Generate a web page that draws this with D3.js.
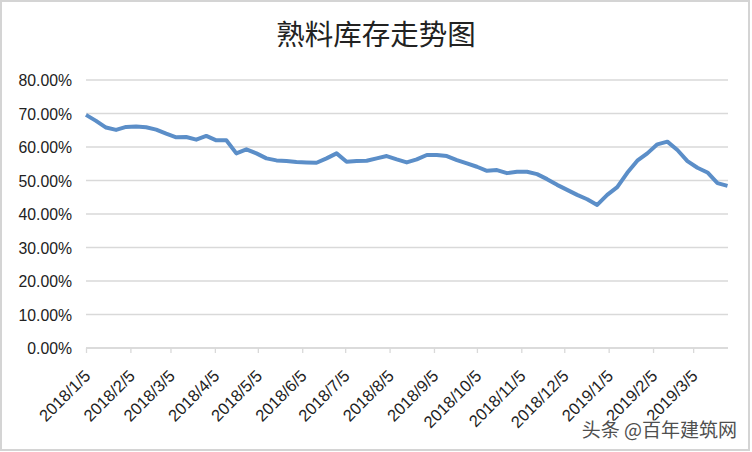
<!DOCTYPE html>
<html><head><meta charset="utf-8">
<script src="https://cdn.jsdelivr.net/npm/d3@7"></script>
<style>html,body{margin:0;padding:0;background:#fff;}svg{display:block;}</style>
</head><body>
<script>
const dates = ["2018/1/5","2018/1/12","2018/1/19","2018/1/26","2018/2/2","2018/2/9","2018/2/16","2018/2/23",
"2018/3/2","2018/3/9","2018/3/16","2018/3/23","2018/3/30","2018/4/6","2018/4/13","2018/4/20","2018/4/27",
"2018/5/4","2018/5/11","2018/5/18","2018/5/25","2018/6/1","2018/6/8","2018/6/15","2018/6/22","2018/6/29",
"2018/7/6","2018/7/13","2018/7/20","2018/7/27","2018/8/3","2018/8/10","2018/8/17","2018/8/24","2018/8/31",
"2018/9/7","2018/9/14","2018/9/21","2018/9/28","2018/10/5","2018/10/12","2018/10/19","2018/10/26",
"2018/11/2","2018/11/9","2018/11/16","2018/11/23","2018/11/30","2018/12/7","2018/12/14","2018/12/21","2018/12/28",
"2019/1/4","2019/1/11","2019/1/18","2019/1/25","2019/2/1","2019/2/8","2019/2/15","2019/2/22",
"2019/3/1","2019/3/8","2019/3/15","2019/3/22","2019/3/29"];
const values = [69.6,67.8,65.8,65.1,66.0,66.1,65.9,65.2,64.0,62.9,63.0,62.2,63.3,62.0,62.0,58.1,59.3,
58.1,56.6,56.0,55.8,55.5,55.4,55.3,56.6,58.1,55.6,55.8,55.9,56.6,57.3,56.3,55.4,56.3,57.6,57.6,57.3,
56.1,55.1,54.1,52.9,53.1,52.2,52.6,52.6,51.9,50.4,48.7,47.2,45.7,44.4,42.7,45.7,48.0,52.3,55.9,58.1,
60.8,61.6,59.1,55.8,53.8,52.4,49.2,48.4];
const tickLabels = ["2018/1/5","2018/2/5","2018/3/5","2018/4/5","2018/5/5","2018/6/5","2018/7/5","2018/8/5",
"2018/9/5","2018/10/5","2018/11/5","2018/12/5","2019/1/5","2019/2/5","2019/3/5"];
const yTicks = [0,0.1,0.2,0.3,0.4,0.5,0.6,0.7,0.8];
const title = "熟料库存走势图";
const watermark = "头条 @百年建筑网";

const W = 752, H = 452;
const parse = d3.timeParse("%Y/%-m/%-d");
const data = dates.map((d,i)=>({date:parse(d), v:values[i]/100}));
const svg = d3.select("body").append("svg").attr("width",W).attr("height",H);

svg.append("rect").attr("x",1).attr("y",1).attr("width",W-4).attr("height",H-3)
  .attr("fill","#fff").attr("stroke","#d4d4d4").attr("stroke-width",2);

const x = d3.scaleTime().domain([data[0].date, data[data.length-1].date]).range([86, 727.5]);
const y = d3.scaleLinear().domain([0,0.8]).range([348, 80]);
const gridColor = "#d9d9d9";

// gridlines
svg.append("g").selectAll("line").data(yTicks).join("line")
  .attr("x1",86).attr("x2",728).attr("y1",d=>y(d)).attr("y2",d=>y(d))
  .attr("stroke",gridColor).attr("stroke-width",1.3);

// y axis labels
const yAxis = d3.axisLeft(y).tickValues(yTicks).tickSize(0).tickPadding(0)
  .tickFormat(d=>(d*100).toFixed(2)+"%");
const gy = svg.append("g").attr("transform","translate(72,0)").call(yAxis);
gy.select(".domain").remove();
gy.selectAll("text").attr("font-family","'Liberation Sans', Arial, sans-serif")
  .attr("font-size",15.8).attr("fill","#222").attr("dy","0.35em");

// x axis
const tickDates = tickLabels.map(parse);
const xAxis = d3.axisBottom(x).tickValues(tickDates).tickSize(5).tickFormat((d,i)=>tickLabels[i]);
const gx = svg.append("g").attr("transform","translate(0,348)").call(xAxis);
gx.select(".domain").attr("stroke",gridColor).attr("stroke-width",1.3).attr("d","M86,0H728");
gx.selectAll(".tick line").attr("stroke",gridColor).attr("stroke-width",1.3);
gx.selectAll(".tick text")
  .attr("font-family","'Liberation Sans', Arial, sans-serif").attr("font-size",16.5)
  .attr("fill","#222").attr("text-anchor","end")
  .attr("y",0).attr("dy",0)
  .attr("transform","translate(5,29) rotate(-45)");

// line
const line = d3.line().x(d=>x(d.date)).y(d=>y(d.v));
svg.append("path").datum(data).attr("d",line).attr("fill","none")
  .attr("stroke","#5b8ec8").attr("stroke-width",4).attr("stroke-linejoin","round").attr("stroke-linecap","butt");

// title
svg.append("text").attr("x",376).attr("y",45).attr("text-anchor","middle")
  .attr("font-family","'Noto Sans CJK SC', sans-serif").attr("font-size",28.5).attr("fill","#222")
  .text(title);

// watermark
svg.append("text").attr("x",737).attr("y",437).attr("text-anchor","end")
  .attr("font-family","'Noto Sans CJK SC', sans-serif").attr("font-size",19)
  .attr("fill","#4f4f4f").attr("stroke","#fff").attr("stroke-width",2.5).attr("paint-order","stroke")
  .text(watermark);
</script>
</body></html>
